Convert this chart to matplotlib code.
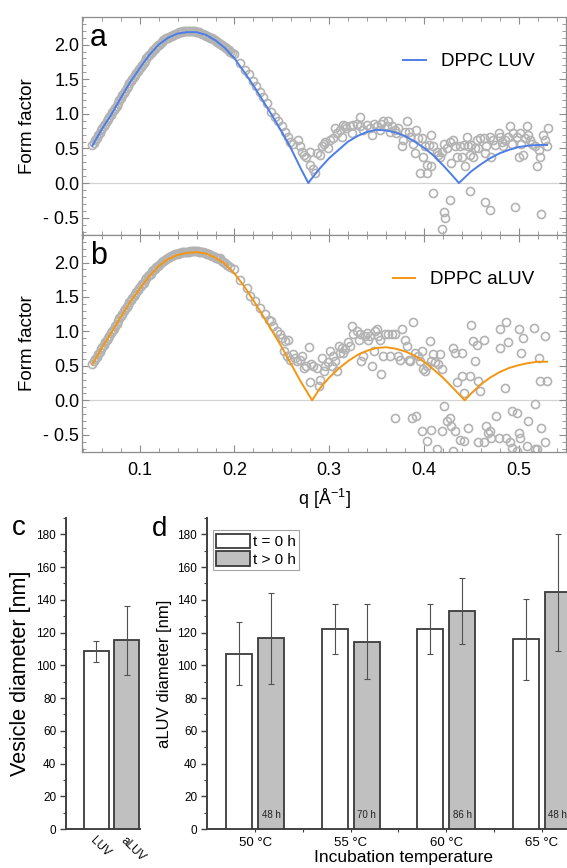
import numpy as np
import matplotlib
matplotlib.use("Agg")
import matplotlib.pyplot as plt
from matplotlib.ticker import MultipleLocator, FuncFormatter, FixedLocator

plt.rcParams['font.family'] = ['Liberation Sans', 'DejaVu Sans']
plt.rcParams['mathtext.fontset'] = 'custom'
plt.rcParams['mathtext.rm'] = 'Liberation Sans'
plt.rcParams['mathtext.default'] = 'regular'

# ---- SAXS form factor: fitted models (q in 1/A, |F(q)|)
q_luv_fit = [0.050, 0.060, 0.070, 0.080, 0.090, 0.100, 0.110, 0.120, 0.130, 0.140,
             0.150, 0.160, 0.170, 0.180, 0.190, 0.200, 0.210, 0.220, 0.230, 0.240,
             0.250, 0.260, 0.270, 0.278, 0.280, 0.290, 0.300, 0.310, 0.320, 0.330,
             0.340, 0.350, 0.360, 0.370, 0.380, 0.390, 0.400, 0.410, 0.420, 0.430,
             0.437, 0.440, 0.450, 0.460, 0.470, 0.480, 0.490, 0.500, 0.510, 0.520, 0.530]
ff_luv_fit = [0.54, 0.78, 0.99, 1.23, 1.46, 1.66, 1.85, 2.00, 2.10, 2.16,
              2.18, 2.18, 2.14, 2.06, 1.95, 1.80, 1.61, 1.41, 1.19, 0.97,
              0.74, 0.49, 0.21, 0.00, 0.04, 0.21, 0.36, 0.48, 0.60, 0.68,
              0.74, 0.77, 0.76, 0.73, 0.68, 0.60, 0.51, 0.40, 0.26, 0.11,
              0.00, 0.04, 0.17, 0.27, 0.36, 0.43, 0.48, 0.52, 0.54, 0.55, 0.55]

q_aluv_fit = [0.050, 0.060, 0.070, 0.080, 0.090, 0.100, 0.110, 0.120, 0.130, 0.140,
              0.150, 0.160, 0.170, 0.180, 0.190, 0.200, 0.210, 0.220, 0.230, 0.240,
              0.250, 0.260, 0.270, 0.282, 0.290, 0.300, 0.310, 0.320, 0.330, 0.340,
              0.350, 0.360, 0.370, 0.380, 0.390, 0.400, 0.410, 0.420, 0.430, 0.443,
              0.450, 0.460, 0.470, 0.480, 0.490, 0.500, 0.510, 0.520, 0.530]
ff_aluv_fit = [0.52, 0.76, 0.98, 1.21, 1.43, 1.62, 1.80, 1.95, 2.05, 2.11,
               2.14, 2.15, 2.13, 2.07, 1.98, 1.84, 1.66, 1.45, 1.23, 1.00,
               0.77, 0.52, 0.27, 0.00, 0.17, 0.33, 0.46, 0.57, 0.66, 0.72,
               0.76, 0.77, 0.75, 0.71, 0.65, 0.56, 0.45, 0.33, 0.19, 0.00,
               0.10, 0.23, 0.33, 0.41, 0.47, 0.51, 0.54, 0.56, 0.56]

# ---- measured points (q, F)
luv_pts = [
    (0.050, 0.55), (0.053, 0.62), (0.056, 0.69), (0.059, 0.76), (0.062, 0.83),
    (0.065, 0.89), (0.068, 0.95), (0.071, 1.02), (0.074, 1.09), (0.077, 1.16),
    (0.080, 1.23), (0.083, 1.30), (0.086, 1.37), (0.089, 1.44), (0.092, 1.50),
    (0.095, 1.56), (0.098, 1.62), (0.101, 1.68), (0.104, 1.74), (0.107, 1.80),
    (0.110, 1.85), (0.113, 1.90), (0.116, 1.94), (0.119, 1.99), (0.122, 2.02),
    (0.125, 2.06), (0.128, 2.09), (0.131, 2.11), (0.134, 2.13), (0.137, 2.15),
    (0.140, 2.17), (0.143, 2.18), (0.146, 2.19), (0.149, 2.19), (0.152, 2.20),
    (0.155, 2.19), (0.158, 2.19), (0.161, 2.18), (0.164, 2.17), (0.167, 2.15),
    (0.170, 2.13), (0.173, 2.11), (0.176, 2.09), (0.179, 2.07), (0.182, 2.04),
    (0.185, 2.01), (0.188, 1.98), (0.191, 1.95), (0.194, 1.92), (0.197, 1.88),
    (0.0515, 0.58), (0.0545, 0.65), (0.0575, 0.72), (0.0605, 0.80), (0.0635, 0.86),
    (0.0665, 0.92), (0.0695, 0.99), (0.0725, 1.05), (0.0755, 1.12), (0.0785, 1.20),
    (0.0815, 1.27), (0.0845, 1.33), (0.0875, 1.40), (0.0905, 1.47), (0.0935, 1.53),
    (0.0965, 1.59), (0.0995, 1.65), (0.1025, 1.71), (0.1055, 1.77), (0.1085, 1.83),
    (0.1115, 1.88), (0.1145, 1.92), (0.1175, 1.97), (0.1205, 2.00), (0.1235, 2.04),
    (0.1265, 2.08), (0.1295, 2.10), (0.1325, 2.12), (0.1355, 2.14), (0.1385, 2.16),
    (0.1415, 2.18), (0.1445, 2.18), (0.1475, 2.20), (0.1505, 2.19), (0.1535, 2.20),
    (0.1565, 2.19), (0.1595, 2.18), (0.1625, 2.18), (0.1655, 2.16), (0.1685, 2.14),
    (0.1715, 2.12), (0.1745, 2.10), (0.1775, 2.08), (0.1805, 2.05), (0.1835, 2.03),
    (0.1865, 2.00), (0.1895, 1.96), (0.1925, 1.93), (0.1955, 1.90),
    (0.199, 1.86), (0.206, 1.73), (0.211, 1.64), (0.215, 1.57), (0.220, 1.47),
    (0.223, 1.40), (0.227, 1.32), (0.230, 1.25), (0.234, 1.15),
    (0.239, 1.03), (0.243, 0.96), (0.246, 0.89), (0.250, 0.82), (0.253, 0.74),
    (0.257, 0.67), (0.259, 0.60), (0.262, 0.57), (0.267, 0.62), (0.269, 0.53),
    (0.271, 0.45), (0.273, 0.41), (0.276, 0.38), (0.280, 0.45), (0.280, 0.26),
    (0.283, 0.21), (0.285, 0.14), (0.287, 0.43), (0.290, 0.41), (0.292, 0.53),
    (0.294, 0.57), (0.296, 0.60), (0.299, 0.50), (0.301, 0.62), (0.304, 0.65),
    (0.306, 0.79), (0.308, 0.72), (0.311, 0.77), (0.313, 0.67), (0.315, 0.84),
    (0.317, 0.82), (0.318, 0.79), (0.322, 0.82), (0.324, 0.72), (0.325, 0.84),
    (0.329, 0.86), (0.332, 0.96), (0.333, 0.82), (0.336, 0.77), (0.340, 0.84),
    (0.343, 0.79), (0.345, 0.70), (0.347, 0.86), (0.350, 0.82), (0.354, 0.77),
    (0.355, 0.86), (0.357, 0.89), (0.361, 0.82), (0.362, 0.89), (0.364, 0.74),
    (0.366, 0.82), (0.369, 0.77), (0.371, 0.72), (0.373, 0.79), (0.377, 0.53),
    (0.378, 0.62), (0.380, 0.74), (0.382, 0.89), (0.384, 0.74), (0.385, 0.67),
    (0.389, 0.57), (0.391, 0.43), (0.392, 0.77), (0.394, 0.65), (0.398, 0.65),
    (0.399, 0.38), (0.401, 0.53), (0.403, 0.26), (0.405, 0.55), (0.408, 0.70),
    (0.410, 0.53), (0.414, 0.45), (0.415, 0.41), (0.417, 0.38), (0.419, 0.45),
    (0.421, 0.57), (0.424, 0.50), (0.428, 0.60), (0.429, 0.29), (0.431, 0.62),
    (0.433, 0.53), (0.435, 0.38), (0.438, 0.53), (0.440, 0.38), (0.442, 0.55),
    (0.443, 0.24), (0.445, 0.67), (0.447, 0.53), (0.449, 0.41), (0.450, 0.55),
    (0.452, 0.38), (0.454, 0.50), (0.456, 0.62), (0.457, 0.50), (0.459, 0.65),
    (0.463, 0.65), (0.464, 0.43), (0.466, 0.53), (0.470, 0.67), (0.471, 0.38),
    (0.473, 0.62), (0.475, 0.55), (0.479, 0.72), (0.480, 0.67), (0.482, 0.60),
    (0.484, 0.53), (0.486, 0.62), (0.489, 0.67), (0.491, 0.82), (0.493, 0.57),
    (0.494, 0.72), (0.498, 0.67), (0.500, 0.38), (0.501, 0.72), (0.503, 0.57),
    (0.505, 0.41), (0.507, 0.65), (0.509, 0.82), (0.510, 0.70), (0.512, 0.62),
    (0.514, 0.57), (0.517, 0.53), (0.519, 0.24), (0.521, 0.48), (0.523, 0.38),
    (0.526, 0.70), (0.528, 0.62), (0.530, 0.53), (0.531, 0.79),
    (0.408, 0.24), (0.396, 0.14), (0.403, 0.14),
    (0.410, -0.15), (0.421, -0.42), (0.422, -0.51), (0.419, -0.66), (0.428, -0.25),
    (0.449, -0.11), (0.464, -0.27), (0.470, -0.39), (0.496, -0.34), (0.524, -0.44),
]

aluv_pts = [
    (0.050, 0.53), (0.053, 0.60), (0.056, 0.67), (0.059, 0.74), (0.062, 0.81),
    (0.065, 0.87), (0.068, 0.94), (0.071, 1.01), (0.074, 1.08), (0.077, 1.15),
    (0.080, 1.22), (0.083, 1.29), (0.086, 1.35), (0.089, 1.42), (0.092, 1.48),
    (0.095, 1.54), (0.098, 1.60), (0.101, 1.66), (0.104, 1.71), (0.107, 1.77),
    (0.110, 1.82), (0.113, 1.87), (0.116, 1.91), (0.119, 1.95), (0.122, 1.99),
    (0.125, 2.02), (0.128, 2.05), (0.131, 2.08), (0.134, 2.10), (0.137, 2.12),
    (0.140, 2.13), (0.143, 2.14), (0.146, 2.15), (0.149, 2.16), (0.152, 2.16),
    (0.155, 2.17), (0.158, 2.17), (0.161, 2.17), (0.164, 2.16), (0.167, 2.15),
    (0.170, 2.14), (0.173, 2.12), (0.176, 2.10), (0.179, 2.08), (0.182, 2.06),
    (0.0515, 0.57), (0.0545, 0.63), (0.0575, 0.70), (0.0605, 0.78), (0.0635, 0.84),
    (0.0665, 0.91), (0.0695, 0.97), (0.0725, 1.04), (0.0755, 1.11), (0.0785, 1.19),
    (0.0815, 1.25), (0.0845, 1.32), (0.0875, 1.39), (0.0905, 1.45), (0.0935, 1.51),
    (0.0965, 1.57), (0.0995, 1.63), (0.1025, 1.69), (0.1055, 1.74), (0.1085, 1.80),
    (0.1115, 1.84), (0.1145, 1.89), (0.1175, 1.93), (0.1205, 1.97), (0.1235, 2.01),
    (0.1265, 2.04), (0.1295, 2.06), (0.1325, 2.09), (0.1355, 2.11), (0.1385, 2.13),
    (0.1415, 2.14), (0.1445, 2.15), (0.1475, 2.15), (0.1505, 2.16), (0.1535, 2.17),
    (0.1565, 2.17), (0.1595, 2.17), (0.1625, 2.16), (0.1655, 2.16), (0.1685, 2.14),
    (0.1715, 2.13), (0.1745, 2.11), (0.1775, 2.09), (0.1805, 2.07), (0.1835, 2.05),
    (0.1865, 2.02), (0.1895, 1.99), (0.1925, 1.96),
    (0.185, 2.07), (0.188, 2.01), (0.192, 1.97), (0.195, 1.93), (0.199, 1.90),
    (0.206, 1.75), (0.213, 1.63), (0.216, 1.51), (0.222, 1.44), (0.227, 1.34),
    (0.232, 1.25), (0.236, 1.17),
    (0.239, 1.15), (0.241, 1.08), (0.245, 1.00), (0.248, 0.96), (0.250, 0.91),
    (0.253, 0.86), (0.257, 0.88), (0.252, 0.71), (0.255, 0.64), (0.259, 0.59),
    (0.262, 0.67), (0.264, 0.62), (0.266, 0.57), (0.269, 0.59), (0.271, 0.64),
    (0.273, 0.47), (0.276, 0.50), (0.279, 0.78), (0.280, 0.27), (0.281, 0.52),
    (0.283, 0.50), (0.287, 0.47), (0.289, 0.21), (0.290, 0.30), (0.292, 0.62),
    (0.294, 0.43), (0.296, 0.50), (0.299, 0.55), (0.301, 0.71), (0.303, 0.50),
    (0.304, 0.64), (0.306, 0.57), (0.308, 0.43), (0.310, 0.79), (0.311, 0.69),
    (0.313, 0.76), (0.315, 0.69), (0.317, 0.74), (0.320, 0.84), (0.322, 0.79),
    (0.324, 1.08), (0.325, 0.96), (0.329, 1.00), (0.331, 0.88), (0.333, 0.96),
    (0.334, 0.57), (0.336, 0.64), (0.338, 0.93), (0.340, 0.98), (0.341, 0.88),
    (0.343, 0.93), (0.345, 0.50), (0.347, 0.71), (0.348, 1.00), (0.350, 1.03),
    (0.352, 0.93), (0.354, 0.88), (0.355, 0.38), (0.357, 0.64), (0.359, 0.96),
    (0.362, 0.96), (0.364, 0.64), (0.366, 0.96), (0.369, 0.96), (0.373, 0.64),
    (0.375, 0.59), (0.377, 1.03), (0.380, 0.88), (0.382, 0.79), (0.384, 0.59),
    (0.385, 0.57), (0.389, 1.13), (0.391, 0.69), (0.394, 0.64), (0.396, 0.57),
    (0.398, 0.71), (0.399, 0.45), (0.401, 0.43), (0.403, 0.50), (0.406, 0.86),
    (0.408, 0.57), (0.410, 0.67), (0.412, 0.55), (0.415, 0.52), (0.417, 0.67),
    (0.419, 0.45), (0.431, 0.76), (0.433, 0.69), (0.440, 0.69), (0.435, 0.26),
    (0.440, 0.35), (0.442, 0.11), (0.449, 0.35), (0.450, 1.10), (0.452, 0.86),
    (0.454, 0.57), (0.456, 0.81), (0.457, 0.28), (0.459, 0.14), (0.463, 0.88),
    (0.480, 1.03), (0.480, 0.76), (0.486, 0.18), (0.487, 1.13), (0.489, 0.84),
    (0.500, 1.03), (0.503, 0.69), (0.505, 0.91), (0.516, 1.05), (0.521, 0.62),
    (0.523, 0.28), (0.528, 0.93), (0.530, 0.28),
    (0.517, -0.06), (0.493, -0.15), (0.498, -0.18), (0.476, -0.23), (0.369, -0.26),
    (0.387, -0.26), (0.392, -0.23), (0.398, -0.44), (0.403, -0.59), (0.408, -0.43),
    (0.419, -0.44), (0.421, -0.08), (0.424, -0.30), (0.428, -0.25), (0.429, -0.37),
    (0.433, -0.44), (0.438, -0.57), (0.442, -0.59), (0.447, -0.40), (0.457, -0.60),
    (0.463, -0.60), (0.466, -0.37), (0.468, -0.47), (0.470, -0.44), (0.471, -0.54),
    (0.479, -0.54), (0.487, -0.54), (0.491, -0.61), (0.493, -0.69), (0.500, -0.47),
    (0.501, -0.54), (0.509, -0.66), (0.510, -0.30), (0.517, -0.71), (0.524, -0.40),
    (0.528, -0.60), (0.414, -0.71), (0.431, -0.73), (0.498, -0.73), (0.519, -0.71),
]

# ---- DLS vesicle diameters [nm]
vesicle_types = ['LUV', 'aLUV']
vesicle_diam = [108.6, 115.2]
vesicle_err = [6.3, 21.0]

temperatures = ['50 °C', '55 °C', '60 °C', '65 °C']
diam_t0 = [107.1, 122.4, 122.4, 115.9]
err_t0 = [19.4, 15.2, 15.2, 24.8]
diam_tinc = [116.4, 114.4, 133.2, 144.5]
err_tinc = [27.6, 22.8, 20.3, 35.7]
incubation_times = ['48 h', '70 h', '86 h', '48 h']

PT_GRAY = '#b3b3b3'
SPINE_GRAY = '#8c8c8c'
BAR_EDGE = '#3a3a3a'
BAR_FILL = '#c0c0c0'


def minus_fmt(v, pos):
    if v < 0:
        return f"- {abs(v):.1f}"
    return f"{v:.1f}"


def form_factor_panel(ax, pts, q_fit, ff_fit, color, label, letter, show_x):
    q_obs, ff_obs = np.array(pts).T
    ax.axhline(0, color='#d3d3d3', lw=0.9, zorder=1)
    ax.plot(q_obs, ff_obs, 'o', ms=5.8, mfc='none', mec=PT_GRAY, mew=1.2, zorder=2)
    ax.plot(q_fit, ff_fit, color=color, lw=1.4, label=label, zorder=3)
    ax.set_xlim(0.039, 0.550)
    ax.set_ylim(-0.75, 2.40)
    ax.xaxis.set_major_locator(MultipleLocator(0.1))
    ax.xaxis.set_minor_locator(MultipleLocator(0.02))
    ax.yaxis.set_major_locator(MultipleLocator(0.5))
    ax.yaxis.set_minor_locator(MultipleLocator(0.1))
    ax.yaxis.set_major_formatter(FuncFormatter(minus_fmt))
    ax.tick_params(which='both', direction='in', top=True, right=True,
                   color=SPINE_GRAY, labelsize=13)
    ax.tick_params(which='major', length=5, width=0.8)
    ax.tick_params(which='minor', length=3, width=0.6)
    ax.tick_params(axis='y', pad=2)
    ax.tick_params(axis='x', pad=7)
    for s in ax.spines.values():
        s.set_color(SPINE_GRAY)
        s.set_linewidth(0.9)
    if not show_x:
        ax.tick_params(axis='x', labelbottom=False)
    ax.set_ylabel('Form factor', fontsize=13.5, labelpad=5)
    ax.text(0.017, 0.865, letter, transform=ax.transAxes, fontsize=22,
            va='baseline', ha='left')
    ax.legend(loc='center right', bbox_to_anchor=(0.935, 0.794), frameon=False,
              fontsize=13.5, handlelength=1.2, handletextpad=0.8,
              borderaxespad=0, borderpad=0)


def bar_axes_style(ax):
    ax.set_ylim(0, 190)
    ax.yaxis.set_major_locator(FixedLocator(np.arange(0, 181, 20)))
    ax.yaxis.set_minor_locator(FixedLocator(np.arange(10, 191, 20)))
    ax.spines['top'].set_visible(False)
    ax.spines['right'].set_visible(False)
    for s in ('left', 'bottom'):
        ax.spines[s].set_color('#404040')
        ax.spines[s].set_linewidth(1.4)
    ax.tick_params(axis='y', which='both', direction='out', color='#404040',
                   labelsize=8.5, pad=3)
    ax.tick_params(axis='y', which='major', length=4, width=1.0)
    ax.tick_params(axis='y', which='minor', length=2.5, width=0.8)


fig = plt.figure(figsize=(5.67, 8.68), dpi=100)

ax_a = fig.add_axes([0.1446, 0.7293, 0.8536, 0.2512])
form_factor_panel(ax_a, luv_pts, q_luv_fit, ff_luv_fit, '#4d7de6',
                  'DPPC LUV', 'a', show_x=False)

ax_b = fig.add_axes([0.1446, 0.4793, 0.8536, 0.2500])
form_factor_panel(ax_b, aluv_pts, q_aluv_fit, ff_aluv_fit, '#f59612',
                  'DPPC aLUV', 'b', show_x=True)
ax_b.set_xlabel('q [Å$^{-1}$]', fontsize=13, labelpad=6)

err_kw = dict(fmt='none', ecolor='#505050', elinewidth=0.8, capsize=2.5,
              capthick=0.8, zorder=4)

# panel c: LUV vs aLUV
ax_c = fig.add_axes([0.1164, 0.0449, 0.1305, 0.3583])
xc = np.arange(len(vesicle_types))
ax_c.bar(xc, vesicle_diam, width=0.82, color=['white', BAR_FILL],
         edgecolor=BAR_EDGE, linewidth=1.3, zorder=3)
ax_c.errorbar(xc, vesicle_diam, yerr=vesicle_err, **err_kw)
ax_c.set_xlim(-1.0, 1.43)
bar_axes_style(ax_c)
ax_c.set_xticks(xc)
ax_c.set_xticklabels(vesicle_types, rotation=-45, ha='left',
                     rotation_mode='anchor', fontsize=8.5)
ax_c.tick_params(axis='x', length=0, pad=4)
ax_c.set_ylabel('Vesicle diameter [nm]', fontsize=15.5, labelpad=4)
fig.text(12 / 567, 1 - 535 / 868, 'c', fontsize=20, va='baseline')

# panel d: incubation temperature series
ax_d = fig.add_axes([0.3651, 0.0449, 0.6914, 0.3583])
xd = np.arange(len(temperatures))
off = 0.168
w = 0.272
ax_d.bar(xd - off, diam_t0, width=w, color='white', edgecolor=BAR_EDGE,
         linewidth=1.3, label='t = 0 h', zorder=3)
ax_d.bar(xd + off, diam_tinc, width=w, color=BAR_FILL, edgecolor=BAR_EDGE,
         linewidth=1.3, label='t > 0 h', zorder=3)
ax_d.errorbar(xd - off, diam_t0, yerr=err_t0, **err_kw)
ax_d.errorbar(xd + off, diam_tinc, yerr=err_tinc, **err_kw)
for x, lab in zip(xd + off, incubation_times):
    ax_d.text(x, 8.6, lab, ha='center', va='center', fontsize=7, color='#222222',
              zorder=5)
ax_d.set_xlim(-0.503, 3.6)
bar_axes_style(ax_d)
ax_d.set_xticks(xd)
ax_d.set_xticklabels(temperatures, fontsize=9.5)
ax_d.xaxis.set_minor_locator(FixedLocator(xd[:-1] + 0.5))
ax_d.tick_params(axis='x', which='both', direction='out', color='#404040',
                 length=2.5, width=0.8, pad=3)
ax_d.set_xlabel('Incubation temperature', fontsize=12.5, labelpad=1)
ax_d.set_ylabel('aLUV diameter [nm]', fontsize=12, labelpad=4)
leg = ax_d.legend(loc='upper left', bbox_to_anchor=(0.015, 0.96), fontsize=11,
                  handlelength=2.2, handleheight=1.1, handletextpad=0.2,
                  borderpad=0.2, labelspacing=0.15, borderaxespad=0,
                  fancybox=False, edgecolor='#8c8c8c')
leg.get_frame().set_linewidth(0.8)
fig.text(152 / 567, 1 - 536 / 868, 'd', fontsize=20, va='baseline')

fig.savefig('out.png', dpi=100)
